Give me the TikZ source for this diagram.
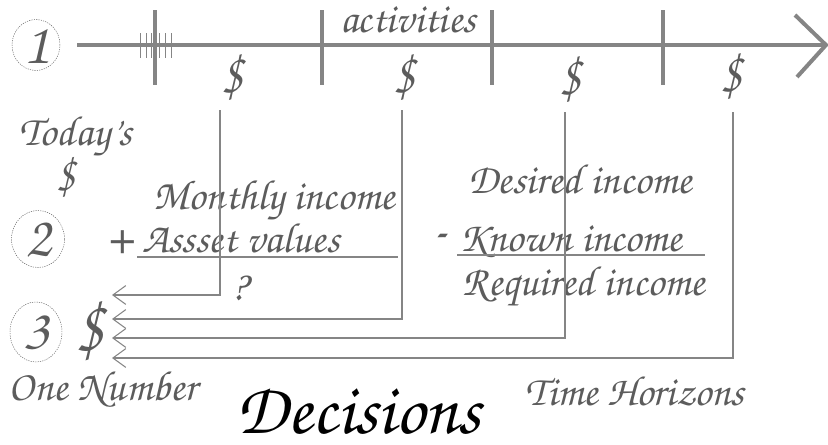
\documentclass[tikz,border=0pt]{standalone}
\usepackage[T1,TU]{fontenc}
\usetikzlibrary{shapes,arrows.meta}
\definecolor{ink}{gray}{0.36}
\definecolor{rule}{gray}{0.52}
\newcommand{\hand}[1]{\usefont{T1}{pzc}{mb}{it}\fontsize{#1}{#1}\selectfont}
\tikzstyle{lbl}=[text=ink,font=\hand{36},inner sep=0pt,anchor=base]
\tikzstyle{dollar}=[text=ink,font=\hand{48},inner sep=0pt]
\tikzstyle{num}=[ellipse,draw=ink,thin,dash pattern=on 1pt off 1pt,text=ink,font=\hand{50},inner sep=0pt]
\tikzstyle{axis}=[draw=rule,line width=3.4pt]
\tikzstyle{bar}=[draw=rule,line width=2pt]
\tikzstyle{ret}=[draw=rule,line width=1.1pt,-{Straight Barb[length=11pt,width=16pt,line width=0.9pt]}]

\begin{document}
\begin{tikzpicture}[x=0.03cm,y=-0.03cm]
\useasboundingbox (0,0) rectangle (828,445);
% timeline
\node[num,minimum width=1.44cm,minimum height=1.32cm] (n1) at (36,45) {1};
\coordinate (ax0) at (77,45);
\coordinate (ax1) at (826,45);
\draw[axis] (ax0) -- (ax1);
\draw[axis] (795,15) -- (ax1) -- (797,77);
\foreach \x in {155,322,492,663}
  \draw[axis] (\x,10) -- (\x,85);
\foreach \x in {140,146,151,159,165,171}
  \draw[rule,line width=0.8pt] (\x,33) -- (\x,58);
\node[lbl] (act) at (408,32) {activities};
\node[dollar] (d1) at (233,77) {\$};
\node[dollar] (d2) at (405,77) {\$};
\node[dollar] (d3) at (571,79) {\$};
\node[dollar] (d4) at (732,76) {\$};
\node[lbl] (today) at (76,145) {Today's};
\node[dollar,font=\hand{42}] (tod) at (66,177) {\$};
% step 2
\node[num,minimum width=1.59cm,minimum height=1.71cm] (n2) at (38,239) {2};
\node[lbl,font=\hand{48},anchor=center] (plus) at (120,242) {+};
\node[lbl] (mon) at (274,209) {Monthly income};
\node[lbl] (ass) at (241,252) {Assset values};
\draw[bar] (137,257) -- (398,257);
\node[lbl] (qm) at (240,300) {?};
\node[lbl] (des) at (580,193) {Desired income};
\node[lbl,font=\hand{48},anchor=center] (minus) at (439,241) {-};
\node[lbl] (kno) at (571,251) {Known income};
\draw[bar] (457,255) -- (705,255);
\node[lbl] (req) at (584,295) {Required income};
% step 3
\node[num,minimum width=1.56cm,minimum height=1.8cm] (n3) at (36,332) {3};
\node[dollar,font=\hand{62}] (one) at (90,330) {\$};
\coordinate (t1) at (220,110);
\coordinate (t2) at (402,110);
\coordinate (t3) at (565,112);
\coordinate (t4) at (733,112);
\coordinate (a1) at (112,295);
\coordinate (a2) at (112,319);
\coordinate (a3) at (112,338);
\coordinate (a4) at (112,358);
\draw[ret] (t1) |- (a1);
\draw[ret] (t2) |- (a2);
\draw[ret] (t3) |- (a3);
\draw[ret] (t4) |- (a4);
\node[lbl] (onenum) at (103,400) {One Number};
\node[lbl] (time) at (635,405) {Time Horizons};
\node[lbl,text=black,font=\hand{62},text depth=0pt] (dec) at (359,433) {Decisions};
\end{tikzpicture}
\end{document}
